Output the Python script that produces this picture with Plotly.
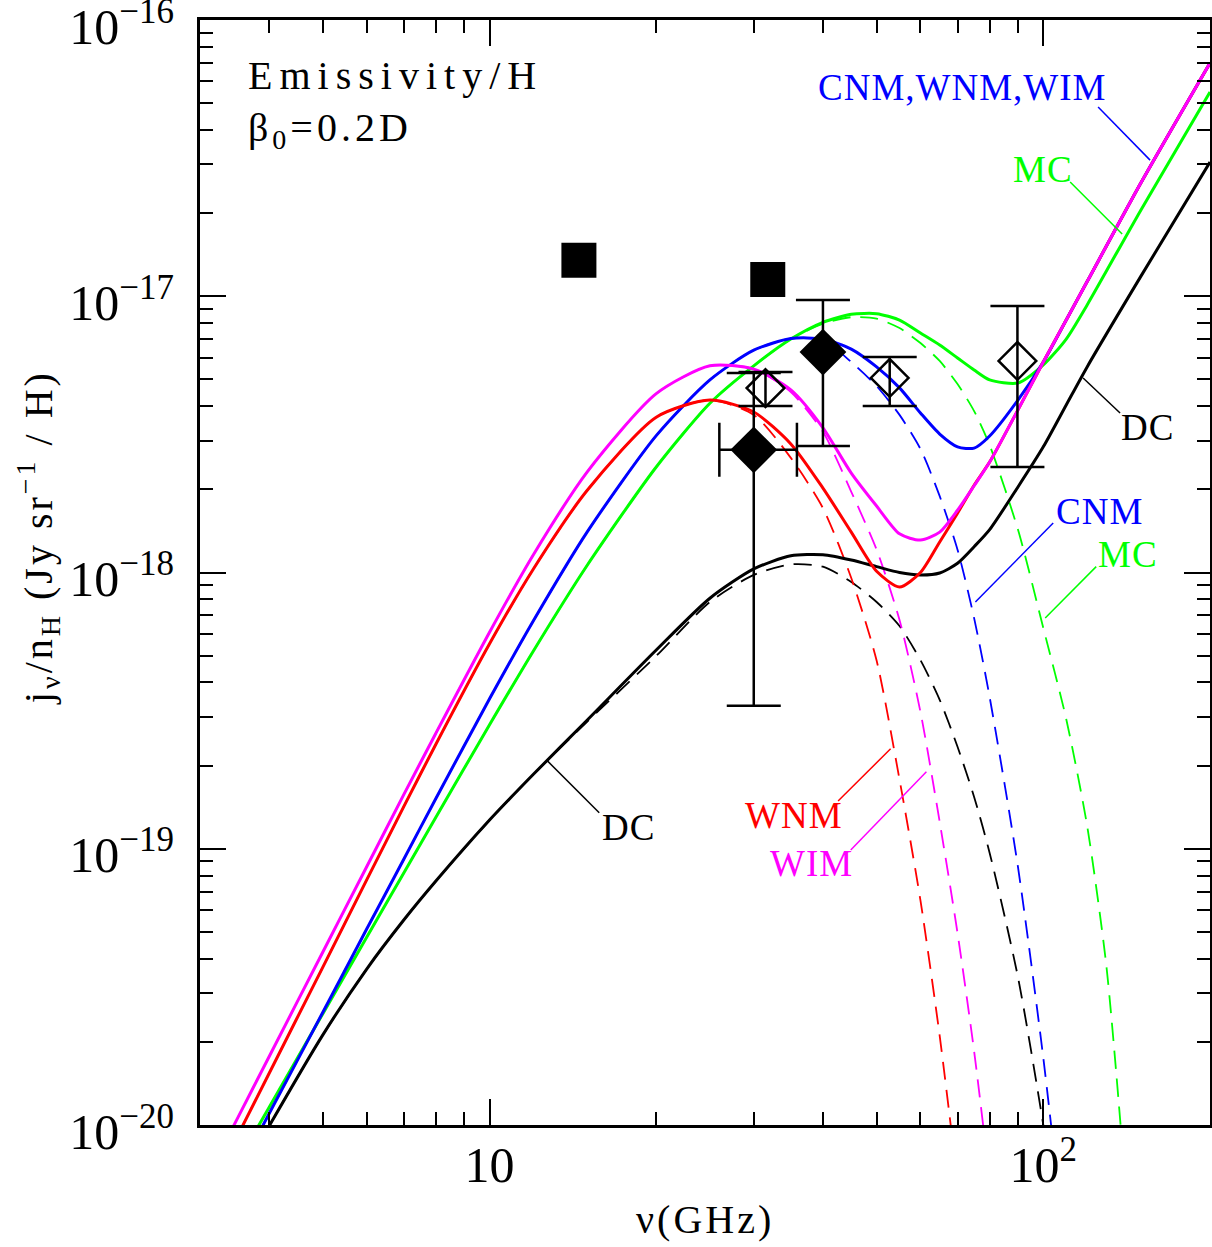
import numpy as np
import plotly.graph_objects as go

FONT = "Liberation Serif"

# ---------------- data ----------------
freq = [3, 3.5, 4, 5, 6, 7, 8, 10, 12, 15, 20, 25, 30, 35, 40, 45, 50, 55, 60,
        65, 70, 75, 80, 90, 100, 110, 120, 150, 200]

wim_total = [5.75e-21, 1.05e-20, 1.77e-20, 4.23e-20, 8.61e-20, 1.57e-19, 2.62e-19, 6.08e-19,
             1.16e-18, 2.31e-18, 4.44e-18, 5.60e-18, 5.45e-18, 4.58e-18, 3.34e-18, 2.29e-18,
             1.74e-18, 1.38e-18, 1.31e-18, 1.40e-18, 1.68e-18, 2.06e-18, 2.51e-18, 3.88e-18,
             5.78e-18, 8.20e-18, 1.13e-17, 2.57e-17, 6.99e-17]
wnm_total = [4.91e-21, 9.06e-21, 1.54e-20, 3.73e-20, 7.71e-20, 1.42e-19, 2.39e-19, 5.52e-19,
             1.03e-18, 1.98e-18, 3.65e-18, 4.21e-18, 3.81e-18, 2.92e-18, 2.02e-18, 1.40e-18,
             1.01e-18, 8.86e-19, 1.00e-18, 1.29e-18, 1.64e-18, 2.07e-18, 2.51e-18, 3.88e-18,
             5.78e-18, 8.20e-18, 1.13e-17, 2.57e-17, 6.99e-17]
cnm_total = [3.69e-21, 6.62e-21, 1.10e-20, 2.56e-20, 5.12e-20, 9.16e-20, 1.52e-19, 3.49e-19,
             6.69e-19, 1.40e-18, 3.13e-18, 4.98e-18, 6.38e-18, 7.03e-18, 7.00e-18, 6.44e-18,
             5.55e-18, 4.66e-18, 3.78e-18, 3.17e-18, 2.85e-18, 2.82e-18, 3.12e-18, 4.21e-18,
             5.78e-18, 8.20e-18, 1.13e-17, 2.57e-17, 6.99e-17]
mc_total = [4.25e-21, 7.28e-21, 1.16e-20, 2.53e-20, 4.78e-20, 8.17e-20, 1.30e-19, 2.81e-19,
            5.20e-19, 1.06e-18, 2.41e-18, 4.10e-18, 5.60e-18, 7.00e-18, 8.05e-18, 8.60e-18,
            8.65e-18, 8.20e-18, 7.36e-18, 6.66e-18, 5.98e-18, 5.41e-18, 4.98e-18, 4.85e-18,
            5.64e-18, 7.00e-18, 9.30e-18, 2.05e-17, 5.49e-17]
dc_total = [3.50e-21, 6.17e-21, 9.92e-21, 2.12e-20, 3.67e-20, 5.52e-20, 7.64e-20, 1.27e-19,
            1.86e-19, 2.92e-19, 5.24e-19, 8.07e-19, 1.03e-18, 1.15e-18, 1.16e-18, 1.11e-18,
            1.05e-18, 1.00e-18, 9.80e-19, 9.96e-19, 1.08e-18, 1.24e-18, 1.43e-18, 2.04e-18,
            2.85e-18, 4.04e-18, 5.55e-18, 1.18e-17, 3.06e-17]

# spinning-dust-only (dashed) curves
wim_spin_freq = [3, 3.5, 4, 5, 6, 7, 8, 10, 12, 15, 20, 25, 30, 35, 40, 45, 50, 55, 60, 65, 70, 75, 80]
wim_spin = [5.75e-21, 1.05e-20, 1.77e-20, 4.23e-20, 8.61e-20, 1.57e-19, 2.62e-19, 6.08e-19,
            1.16e-18, 2.31e-18, 4.44e-18, 5.60e-18, 5.45e-18, 4.50e-18, 3.23e-18, 1.96e-18,
            1.21e-18, 6.73e-19, 3.13e-19, 1.25e-19, 4.95e-20, 1.85e-20, 6.3e-21]
wnm_spin_freq = [3, 3.5, 4, 5, 6, 7, 8, 10, 12, 15, 20, 25, 30, 35, 40, 45, 50, 55, 60, 65, 70]
wnm_spin = [4.91e-21, 9.06e-21, 1.54e-20, 3.73e-20, 7.71e-20, 1.42e-19, 2.39e-19, 5.52e-19,
            1.03e-18, 1.98e-18, 3.65e-18, 4.21e-18, 3.72e-18, 2.60e-18, 1.71e-18, 9.55e-19,
            4.80e-19, 1.78e-19, 6.50e-20, 2.10e-20, 6.2e-21]
cnm_spin_freq = [3, 3.5, 4, 5, 6, 7, 8, 10, 12, 15, 20, 25, 30, 35, 40, 45, 50, 55, 60, 65,
                 70, 75, 80, 90, 100, 110]
cnm_spin = [3.69e-21, 6.62e-21, 1.10e-20, 2.56e-20, 5.12e-20, 9.16e-20, 1.52e-19, 3.49e-19,
            6.69e-19, 1.40e-18, 3.13e-18, 4.98e-18, 6.38e-18, 7.03e-18, 6.95e-18, 5.78e-18,
            4.73e-18, 3.72e-18, 2.80e-18, 1.89e-18, 1.21e-18, 6.84e-19, 3.54e-19, 8.59e-20,
            1.75e-20, 3.2e-21]
mc_spin_freq = [3, 3.5, 4, 5, 6, 7, 8, 10, 12, 15, 20, 25, 30, 35, 40, 45, 50, 55, 60, 65,
                70, 75, 80, 90, 100, 110, 120, 130, 140]
mc_spin = [4.25e-21, 7.28e-21, 1.16e-20, 2.53e-20, 4.78e-20, 8.17e-20, 1.30e-19, 2.81e-19,
           5.20e-19, 1.06e-18, 2.41e-18, 4.10e-18, 5.60e-18, 7.00e-18, 7.95e-18, 8.40e-18,
           8.30e-18, 7.67e-18, 6.77e-18, 5.83e-18, 4.81e-18, 3.84e-18, 2.89e-18, 1.43e-18,
           6.30e-19, 2.95e-19, 1.21e-19, 3.76e-20, 6.9e-21]
dc_spin_freq = [3, 3.5, 4, 5, 6, 7, 8, 10, 12, 15, 20, 25, 30, 35, 40, 45, 50, 55, 60, 65,
                70, 75, 80, 90, 100, 110]
dc_spin = [3.50e-21, 6.17e-21, 9.92e-21, 2.12e-20, 3.67e-20, 5.52e-20, 7.64e-20, 1.27e-19,
           1.86e-19, 2.88e-19, 4.99e-19, 7.82e-19, 9.80e-19, 1.07e-18, 1.05e-18, 9.24e-19,
           7.82e-19, 6.40e-19, 4.82e-19, 3.46e-19, 2.34e-19, 1.54e-19, 9.66e-20, 3.43e-20,
           1.0e-20, 2.75e-21]

# observations
sq_freq = [14.5, 31.8]
sq_j = [1.35e-17, 1.15e-17]

fd_freq = [30.0, 40.0]
fd_j = [2.78e-18, 6.28e-18]
fd_hi = [5.27e-18, 9.69e-18]
fd_lo = [3.29e-19, 2.87e-18]
fd_f_lo = [26.0, None]
fd_f_hi = [35.9, None]

od_freq = [31.5, 52.8, 89.8]
od_j = [4.65e-18, 5.06e-18, 5.83e-18]
od_hi = [5.32e-18, 6.03e-18, 9.22e-18]
od_lo = [4.01e-18, 4.01e-18, 2.41e-18]

# curve labels: text, colour, paper x, paper y
label_text = ["CNM,WNM,WIM", "MC", "DC", "CNM", "MC", "WNM", "WIM", "DC"]
label_color = ["#0000ff", "#00ff00", "#000000", "#0000ff", "#00ff00", "#ff0000", "#ff00ff", "#000000"]
label_px = [0.7545, 0.8347, 0.9386, 0.8901, 0.9188, 0.5881, 0.6059, 0.4238]
label_py = [0.9385, 0.8643, 0.6308, 0.5548, 0.5167, 0.2805, 0.2371, 0.2688]
# leader lines (freq0, j0, freq1, j1)
leader_f0 = [125.6, 111.8, 118.0, 75.4, 100.8, 53.0, 61.5, 12.72]
leader_j0 = [4.84e-17, 2.59e-17, 5.06e-18, 7.82e-19, 6.84e-19, 2.30e-19, 1.90e-19, 2.08e-19]
leader_f1 = [155.9, 138.8, 137.6, 104.2, 124.6, 42.6, 44.9, 15.78]
leader_j1 = [3.11e-17, 1.68e-17, 3.78e-18, 1.51e-18, 1.05e-18, 1.49e-19, 9.9e-20, 1.35e-19]

# ---------------- figure ----------------
BLACK, GREEN, BLUE, RED, MAG = "#000000", "#00ff00", "#0000ff", "#ff0000", "#ff00ff"
fig = go.Figure()

dashed = [(dc_spin_freq, dc_spin, BLACK), (mc_spin_freq, mc_spin, GREEN),
          (cnm_spin_freq, cnm_spin, BLUE), (wnm_spin_freq, wnm_spin, RED),
          (wim_spin_freq, wim_spin, MAG)]
for fx, fy, c in dashed:
    fig.add_trace(go.Scatter(x=fx, y=fy, mode="lines",
                             line=dict(color=c, width=1.8, dash="18px,10px", shape="spline", smoothing=0.7)))

solid = [(dc_total, BLACK), (mc_total, GREEN), (cnm_total, BLUE), (wnm_total, RED), (wim_total, MAG)]
for fy, c in solid:
    fig.add_trace(go.Scatter(x=freq, y=fy, mode="lines",
                             line=dict(color=c, width=3, shape="spline", smoothing=0.7)))

for i in range(len(leader_f0)):
    fig.add_trace(go.Scatter(x=[leader_f0[i], leader_f1[i]], y=[leader_j0[i], leader_j1[i]],
                             mode="lines", line=dict(color=label_color[i], width=1.5)))

# filled squares
fig.add_trace(go.Scatter(x=sq_freq, y=sq_j, mode="markers",
                         marker=dict(symbol="square", size=35, color="black", line=dict(width=0))))

# open diamonds with error bars
fig.add_trace(go.Scatter(
    x=od_freq, y=od_j, mode="markers",
    marker=dict(symbol="diamond-open", size=29, color="black", line=dict(width=2.5, color="black")),
    error_y=dict(type="data", symmetric=False,
                 array=[h - v for h, v in zip(od_hi, od_j)],
                 arrayminus=[v - l for l, v in zip(od_lo, od_j)],
                 color="black", thickness=2.5, width=27)))

# filled diamonds with error bars
for i in range(len(fd_freq)):
    ex = None
    if fd_f_lo[i] is not None:
        ex = dict(type="data", symmetric=False, array=[fd_f_hi[i] - fd_freq[i]],
                  arrayminus=[fd_freq[i] - fd_f_lo[i]], color="black", thickness=2.5, width=27)
    fig.add_trace(go.Scatter(
        x=[fd_freq[i]], y=[fd_j[i]], mode="markers",
        marker=dict(symbol="diamond", size=36, color="black", line=dict(width=0)),
        error_y=dict(type="data", symmetric=False, array=[fd_hi[i] - fd_j[i]],
                     arrayminus=[fd_j[i] - fd_lo[i]], color="black", thickness=2.5, width=27),
        error_x=ex))

annotations = []
for t, c, px, py in zip(label_text, label_color, label_px, label_py):
    annotations.append(dict(text='<span style="letter-spacing:1px">' + t + '</span>',
                            x=px, y=py, xref="paper", yref="paper", showarrow=False,
                            xanchor="center", yanchor="middle",
                            font=dict(family=FONT, size=37, color=c)))

annotations += [
    dict(text='<span style="letter-spacing:7px">Emissivity/H</span>', x=0.046, y=0.950,
         xref="paper", yref="paper", showarrow=False, xanchor="left", yanchor="middle",
         font=dict(family=FONT, size=40, color="black")),
    dict(text='<span style="letter-spacing:4px">β<sub>0</sub>=0.2D</span>', x=0.046, y=0.900,
         xref="paper", yref="paper", showarrow=False, xanchor="left", yanchor="middle",
         font=dict(family=FONT, size=40, color="black")),
    dict(text='<span style="letter-spacing:3px">ν(GHz)</span>', x=0.5, y=-0.0855,
         xref="paper", yref="paper", showarrow=False,
         xanchor="center", yanchor="middle", font=dict(family=FONT, size=40, color="black")),
    dict(text='<span style="letter-spacing:3px">j<sub>ν</sub>/n<sub>H</sub> (Jy sr<sup>−1</sup> / H)</span>',
         x=-0.1604, y=0.532, xref="paper", yref="paper", showarrow=False, textangle=-90,
         xanchor="center", yanchor="middle", font=dict(family=FONT, size=40, color="black")),
]

axis_common = dict(type="log", showline=True, linewidth=3, linecolor="black", mirror="ticks",
                   ticks="inside", ticklen=26, tickwidth=2, tickcolor="black",
                   showgrid=False, zeroline=False, dtick=1, exponentformat="power",
                   automargin=False, ticklabeloverflow="allow",
                   tickfont=dict(family=FONT, size=40, color="black"),
                   minor=dict(ticks="inside", ticklen=13, tickwidth=2, tickcolor="black",
                              dtick="D1", showgrid=False))

fig.update_layout(
    width=1212, height=1247,
    margin=dict(l=200, r=2, t=20, b=122),
    paper_bgcolor="white", plot_bgcolor="white",
    showlegend=False,
    xaxis=dict(range=[np.log10(3), np.log10(200)], ticklabelstandoff=-4, **axis_common),
    yaxis=dict(range=[-20, -16], ticklabelstandoff=15, ticklabelshift=6, **axis_common),
    annotations=annotations,
)

fig.write_html("out.html",
               config={"displayModeBar": False},
               post_script="document.body.style.margin='0px';document.body.style.overflow='hidden';")
